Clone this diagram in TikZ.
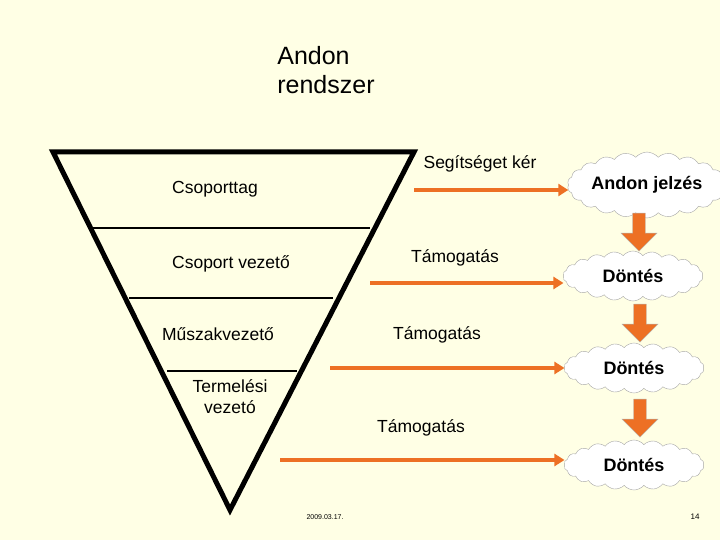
\documentclass[tikz,border=0pt]{standalone}
\usepackage{fontspec}
\setmainfont{Liberation Sans}
\usetikzlibrary{shapes.symbols, shapes.arrows, arrows.meta}
\definecolor{bgyellow}{RGB}{255,255,229}
\definecolor{andonorange}{RGB}{237,112,36}

\begin{document}
\begin{tikzpicture}[x=1pt,y=-1pt,font=\fontsize{17.5}{21}\selectfont]
    \tikzset{
        flow/.style={draw=andonorange, line width=3.5pt, -{Triangle[length=10pt,width=12pt]}},
        decision/.style={cloud, cloud puffs=22, cloud puff arc=100, aspect=2.8, draw=gray!70, fill=white,
            minimum width=140pt, minimum height=50pt, inner sep=0pt, font=\fontsize{18}{21}\selectfont\bfseries},
        downarrow/.style={single arrow, shape border rotate=270, fill=andonorange, draw=gray!60,
            minimum height=38pt, minimum width=36pt, single arrow head extend=6pt, inner sep=3pt},
        level/.style={align=center}
    }
    \fill[bgyellow] (0,0) rectangle (720,540);
    \useasboundingbox (0,0) rectangle (720,540);

    % title
    \node[align=left, font=\fontsize{25}{29}\selectfont] (title) at (326,70) {Andon\\rendszer};

    % pyramid
    \coordinate (tl) at (53,152);
    \coordinate (tr) at (414,152);
    \coordinate (apex) at (230,510);
    \draw[line width=5pt, line join=miter] (tl) -- (tr) -- (apex) -- cycle;
    \draw[line width=1.5pt] (93,228) -- (370,228);
    \draw[line width=1.5pt] (129,298) -- (333,298);
    \draw[line width=1.5pt] (167,371) -- (297,371);

    \node[level] (member)  at (215,189) {Csoporttag};
    \node[level] (leader)  at (231,264) {Csoport vezető};
    \node[level] (shift)   at (218,334) {Műszakvezető};
    \node[level, font=\fontsize{17.5}{21}\selectfont] (prod) at (230,397) {Termelési\\vezetó};

    % decisions
    \node[decision] (signal) at (647,185) {Andon jelzés};
    \node[decision] (dec1)   at (633,276) {Döntés};
    \node[decision] (dec2)   at (634,368) {Döntés};
    \node[decision] (dec3)   at (634,465) {Döntés};

    \node[downarrow] (d1) at (639,229) {};
    \node[downarrow] (d2) at (640,320) {};
    \node[downarrow] (d3) at (640,415) {};

    % support arrows
    \coordinate (s0) at (414,190);
    \coordinate (s1) at (370,283);
    \coordinate (s2) at (330,368);
    \coordinate (s3) at (280,460);
    \draw[flow] (s0) -- (signal.west |- s0);
    \draw[flow] (s1) -- (dec1.west |- s1);
    \draw[flow] (s2) -- (dec2.west |- s2);
    \draw[flow] (s3) -- (dec3.west |- s3);

    \node (ask)  at (480,164) {Segítséget kér};
    \node (sup1) at (455,258) {Támogatás};
    \node (sup2) at (437,335) {Támogatás};
    \node (sup3) at (421,428) {Támogatás};

    % footer
    \node[font=\fontsize{7}{8}\selectfont] (date) at (325,517) {2009.03.17.};
    \node[font=\fontsize{8}{9}\selectfont] (page) at (695,517) {14};
\end{tikzpicture}
\end{document}
